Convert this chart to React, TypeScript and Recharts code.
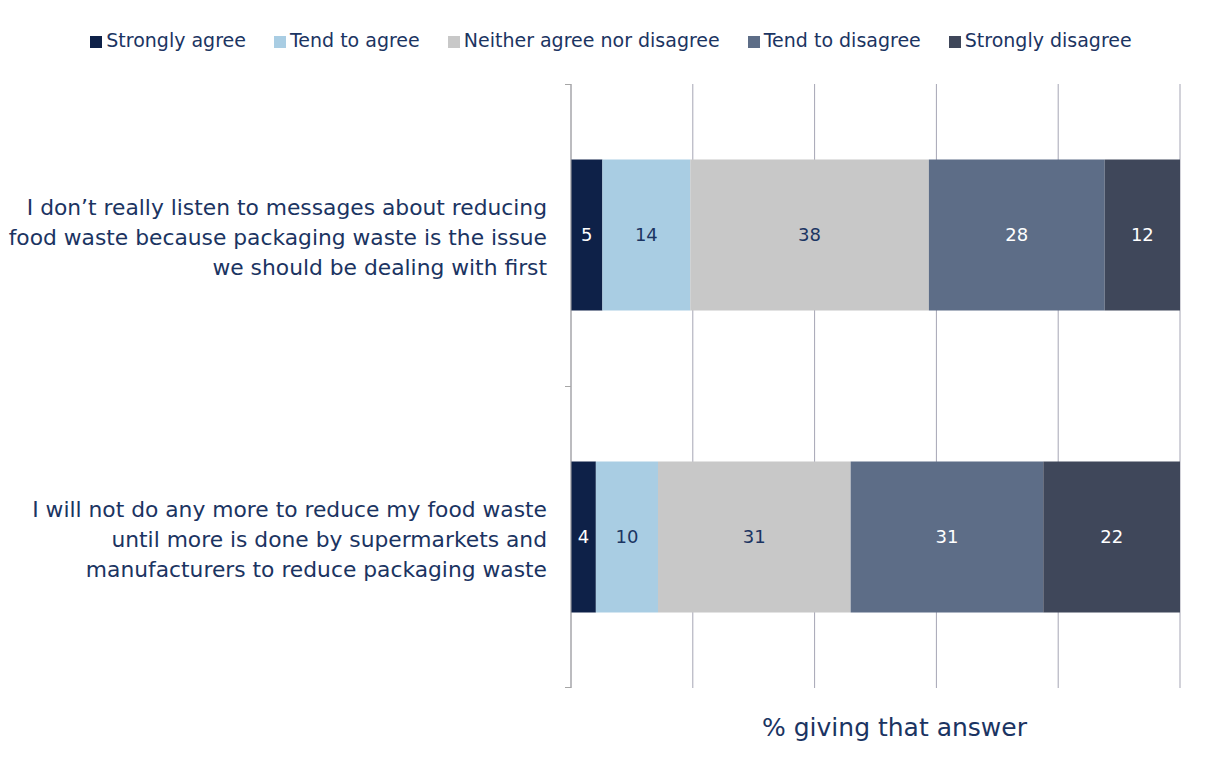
import React from "react";
import { BarChart, Bar, XAxis, YAxis, CartesianGrid, Legend, LabelList } from "recharts";

const categories = [
  "I don’t really listen to messages about reducing\nfood waste because packaging waste is the issue\nwe should be dealing with first",
  "I will not do any more to reduce my food waste\nuntil more is done by supermarkets and\nmanufacturers to reduce packaging waste",
];
const seriesNames = ["Strongly agree", "Tend to agree", "Neither agree nor disagree", "Tend to disagree", "Strongly disagree"];
const stronglyAgree = [5, 4];
const tendToAgree = [14, 10];
const neither = [38, 31];
const tendToDisagree = [28, 31];
const stronglyDisagree = [12, 22];
const xTicks = [0, 0.2, 0.4, 0.6, 0.8, 1];

const seriesColors = ["#0e2148", "#a9cde3", "#c8c8c8", "#5d6d87", "#3f475a"];
const labelColors = ["#ffffff", "#1b3462", "#1b3462", "#ffffff", "#ffffff"];
const NAVY = "#1b3462";
const FONT = "'DejaVu Sans', sans-serif";

const seriesValues = [stronglyAgree, tendToAgree, neither, tendToDisagree, stronglyDisagree];
const data = categories.map((c, i) => {
  const row: any = { category: c };
  seriesNames.forEach((s, j) => {
    row[s] = seriesValues[j][i];
  });
  return row;
});

const W = 1191;
const H = 749;
const MARGIN = { top: 54, right: 19, bottom: 0, left: 0 };
const YAXIS_W = 563;
const XAXIS_H = 69;
const PLOT_TOP = 78;
const PLOT_H = H - PLOT_TOP - MARGIN.bottom - XAXIS_H;
const BAND = PLOT_H / categories.length;

const CategoryTick = (props: any) => {
  const { y, payload, index } = props;
  const lines = String(payload.value).split("\n");
  const lh = 30;
  const start = y + 2 - ((lines.length - 1) * lh) / 2;
  const ax = YAXIS_W;
  return (
    <g>
      <line x1={ax - 6} x2={ax} y1={y - BAND / 2} y2={y - BAND / 2} stroke="#a6a6a6" />
      {index === categories.length - 1 && (
        <line x1={ax - 6} x2={ax} y1={y + BAND / 2} y2={y + BAND / 2} stroke="#a6a6a6" />
      )}
      <text textAnchor="end" fill={NAVY} fontSize={21.8} fontFamily={FONT} dominantBaseline="central">
        {lines.map((l, i) => (
          <tspan key={i} x={ax - 24} y={start + i * lh}>
            {l}
          </tspan>
        ))}
      </text>
    </g>
  );
};

const EmptyTick = () => <g />;

export default function App() {
  return (
    <div style={{ width: W, height: H, fontFamily: FONT }}>
      <BarChart
        width={W}
        height={H}
        data={data}
        layout="vertical"
        stackOffset="expand"
        barCategoryGap="25%"
        margin={MARGIN}
      >
        <CartesianGrid horizontal={false} vertical={true} stroke="#a5a5b4" />
        <XAxis
          type="number"
          domain={[0, 1]}
          ticks={xTicks}
          tick={<EmptyTick />}
          axisLine={false}
          tickLine={false}
          height={XAXIS_H}
          label={{
            value: "% giving that answer",
            position: "insideBottom",
            offset: 21,
            dx: 19,
            fill: NAVY,
            fontSize: 25,
            fontFamily: FONT,
          }}
        />
        <YAxis
          type="category"
          dataKey="category"
          width={YAXIS_W}
          axisLine={{ stroke: "#a6a6a6" }}
          tickLine={false}
          tick={<CategoryTick />}
          interval={0}
        />
        <Legend
          verticalAlign="top"
          align="center"
          iconType="square"
          iconSize={12}
          itemSorter={(item: any) => seriesNames.indexOf(item.value)}
          wrapperStyle={{ top: 21, left: 31, fontSize: 19, fontFamily: FONT }}
          formatter={(v: string) => <span style={{ color: NAVY, marginRight: 18 }}>{v}</span>}
        />
        {seriesNames.map((s, j) => (
          <Bar key={s} dataKey={s} stackId="a" fill={seriesColors[j]} isAnimationActive={false}>
            <LabelList dataKey={s} position="center" fill={labelColors[j]} fontSize={18} fontFamily={FONT} />
          </Bar>
        ))}
      </BarChart>
    </div>
  );
}
